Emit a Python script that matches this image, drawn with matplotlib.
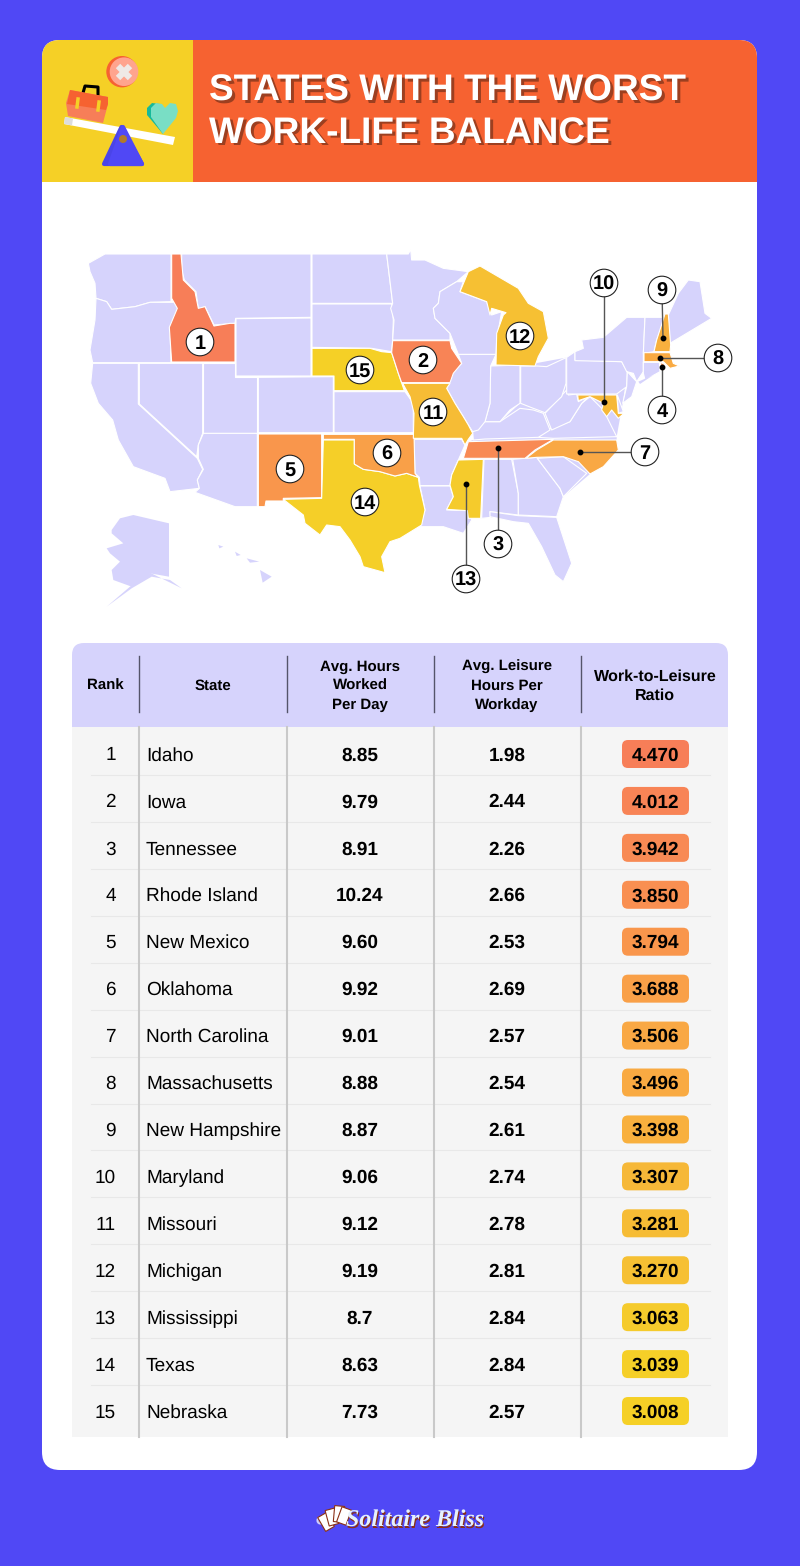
import numpy as np
import matplotlib.pyplot as plt
from matplotlib.patches import Polygon, Circle, Rectangle, FancyBboxPatch
from matplotlib.transforms import Affine2D

plt.rcParams['text.hinting'] = 'no_hinting'
plt.rcParams['text.hinting_factor'] = 1

# table data
ranks = list(range(1, 16))
states = ['Idaho', 'Iowa', 'Tennessee', 'Rhode Island', 'New Mexico', 'Oklahoma',
          'North Carolina', 'Massachusetts', 'New Hampshire', 'Maryland', 'Missouri',
          'Michigan', 'Mississippi', 'Texas', 'Nebraska']
state_codes = ['ID', 'IA', 'TN', 'RI', 'NM', 'OK', 'NC', 'MA', 'NH', 'MD', 'MO', 'MI', 'MS', 'TX', 'NE']
hours_labels = ['8.85', '9.79', '8.91', '10.24', '9.60', '9.92', '9.01', '8.88', '8.87', '9.06',
                '9.12', '9.19', '8.7', '8.63', '7.73']
leisure = [1.98, 2.44, 2.26, 2.66, 2.53, 2.69, 2.57, 2.54, 2.61, 2.74, 2.78, 2.81, 2.84, 2.84, 2.57]
ratio = [4.470, 4.012, 3.942, 3.850, 3.794, 3.688, 3.506, 3.496, 3.398, 3.307, 3.281, 3.270,
         3.063, 3.039, 3.008]
rank_colors = ['#F77E58', '#F88456', '#F88A54', '#F98F51', '#F9964C', '#F9A048', '#F9A844', '#F9AA42',
               '#F8B03E', '#F6B838', '#F6BC35', '#F6C033', '#F5CB2C', '#F5CF28', '#F5D026']
headers = ['Rank', 'State', 'Avg. Hours\nWorked\nPer Day', 'Avg. Leisure\nHours Per\nWorkday',
           'Work-to-Leisure\nRatio']

BG = '#5048F5'
ORANGE = '#F66231'
YELLOW = '#F5D026'
LAV = '#D6D3FC'
SANS = 'Liberation Sans'


# the zoomed crops of the map were traced, these put them back in figure pixels
def w(pts):
    return [(70 + x / 3, 240 + y / 3) for x, y in pts]


def e(pts):
    return [(400 + x / 3, 240 + y / 3) for x, y in pts]


# land behind the eastern states so small tracing gaps stay lavender
land_under = e([(220, 600), (250, 545), (300, 545), (360, 490), (362, 378), (498, 353), (525, 362), (665, 365),
                (682, 395), (668, 490), (650, 590), (650, 600), (570, 702), (490, 770), (470, 830), (355, 825),
                (245, 835), (250, 658), (190, 655), (205, 605)])

map_shapes = {
    'WA': w([(55, 70), (105, 42), (303, 42), (303, 185), (240, 187), (195, 200), (125, 208), (110, 185), (78, 175), (75, 130), (60, 95)]),
    'OR': w([(78, 175), (110, 185), (125, 208), (195, 200), (240, 187), (318, 187), (325, 205), (300, 262), (303, 368), (68, 368), (60, 330), (75, 240)]),
    'CA': w([(68, 370), (205, 370), (205, 492), (382, 655), (398, 688), (382, 720), (388, 745), (300, 755), (285, 715), (190, 680), (145, 600), (128, 540), (85, 490), (62, 430)]),
    'NV': w([(208, 370), (398, 370), (398, 580), (385, 615), (380, 650), (208, 492)]),
    'ID': w([(305, 42), (333, 42), (340, 120), (375, 155), (385, 205), (405, 200), (432, 258), (480, 250), (495, 250), (495, 366), (305, 366), (298, 262), (322, 205), (305, 175)]),
    'MT': w([(335, 42), (723, 42), (723, 232), (497, 235), (495, 250), (432, 255), (405, 200), (385, 207), (378, 155), (343, 120), (335, 90)]),
    'WY': w([(498, 236), (723, 234), (723, 408), (498, 408)]),
    'UT': w([(400, 368), (495, 368), (495, 410), (562, 410), (562, 578), (400, 578)]),
    'CO': w([(565, 412), (790, 410), (790, 578), (565, 578)]),
    'AZ': w([(400, 580), (562, 580), (562, 800), (495, 800), (375, 757), (388, 745), (382, 720), (400, 688), (385, 655), (385, 615)]),
    'NM': w([(565, 582), (755, 582), (755, 773), (640, 775), (640, 783), (588, 783), (585, 800), (565, 800)]),
    'ND': w([(726, 42), (950, 42), (968, 190), (726, 190)]),
    'SD': w([(726, 192), (965, 192), (970, 240), (968, 300), (965, 335), (905, 325), (726, 322)]),
    'NE': w([(726, 325), (900, 325), (935, 335), (965, 338), (985, 400), (1003, 452), (792, 452), (792, 408), (726, 408)]),
    'KS': w([(792, 455), (1005, 455), (1030, 490), (1030, 578), (792, 578)]),
    'TX': w([(760, 600), (853, 600), (853, 672), (880, 688), (930, 695), (975, 708), (1010, 700), (1045, 712), (1048, 735), (1065, 810), (1055, 855), (990, 895), (960, 905), (935, 950), (945, 998), (880, 980), (870, 950), (840, 900), (810, 860), (770, 855), (750, 885), (705, 850), (700, 825), (640, 778), (755, 775)]),
    'OK': w([(760, 583), (1032, 583), (1035, 700), (1045, 712), (1010, 700), (975, 708), (930, 695), (880, 688), (853, 672), (853, 598), (760, 598)]),
    'MN': e([(-40, 42), (25, 42), (32, 28), (35, 60), (75, 60), (130, 85), (205, 95), (170, 125), (120, 155), (115, 190), (100, 205), (105, 235), (150, 280), (150, 300), (-22, 300), (-18, 240), (-28, 205), (-22, 190)]),
    'IA': e([(-22, 302), (150, 302), (155, 325), (185, 370), (160, 400), (150, 428), (5, 428), (-5, 400), (-25, 338)]),
    'MO': e([(8, 430), (150, 430), (140, 445), (165, 490), (190, 530), (205, 555), (218, 580), (205, 598), (195, 615), (185, 595), (40, 595), (42, 520), (30, 470)]),
    'AR': e([(42, 598), (185, 598), (195, 615), (175, 660), (155, 705), (150, 737), (60, 737), (58, 712), (45, 700)]),
    'LA': e([(60, 738), (150, 738), (160, 770), (140, 810), (205, 812), (215, 840), (190, 880), (130, 860), (60, 860), (75, 810)]),
    'MS': e([(175, 660), (250, 658), (242, 835), (205, 835), (202, 812), (140, 808), (160, 770), (150, 735), (155, 705)]),
    'TN': e([(205, 605), (460, 598), (405, 630), (375, 655), (190, 655)]),
    'AL': e([(252, 658), (335, 658), (355, 760), (355, 825), (270, 815), (272, 832), (245, 835)]),
    'GA': e([(338, 658), (410, 652), (480, 745), (490, 770), (470, 830), (355, 825), (355, 760)]),
    'FL': e([(270, 815), (355, 827), (470, 832), (515, 970), (490, 1025), (465, 1005), (425, 920), (385, 850), (340, 845), (270, 830)]),
    'SC': e([(412, 655), (490, 650), (560, 700), (490, 770), (480, 745)]),
    'NC': e([(378, 655), (410, 630), (460, 600), (650, 600), (655, 630), (610, 680), (570, 702), (535, 665), (490, 650), (410, 652)]),
    'VA': e([(415, 592), (440, 570), (510, 545), (545, 490), (570, 470), (610, 510), (625, 540), (650, 590), (460, 595)]),
    'KY': e([(220, 600), (218, 575), (250, 545), (300, 545), (360, 505), (400, 510), (430, 520), (450, 570), (415, 592), (255, 597)]),
    'WV': e([(435, 520), (500, 450), (505, 465), (530, 462), (535, 485), (565, 470), (545, 490), (510, 545), (455, 570)]),
    'OH': e([(362, 378), (410, 378), (440, 380), (498, 353), (498, 430), (485, 470), (435, 518), (400, 505), (362, 490)]),
    'IN': e([(272, 378), (360, 375), (360, 490), (330, 510), (300, 545), (255, 545), (270, 490)]),
    'IL': e([(175, 343), (288, 343), (272, 378), (270, 490), (255, 545), (235, 570), (218, 575), (205, 555), (190, 530), (165, 490), (140, 445), (155, 400), (185, 370)]),
    'WI': e([(120, 155), (170, 125), (190, 125), (180, 155), (260, 185), (275, 225), (305, 215), (290, 300), (288, 343), (175, 343), (150, 280), (105, 235), (100, 205), (115, 190)]),
    'MI': e([(205, 95), (240, 78), (355, 145), (385, 190), (430, 215), (445, 295), (415, 350), (405, 378), (288, 375), (290, 280), (310, 225), (318, 218), (275, 205), (270, 225), (260, 185), (180, 155)]),
    'PA': e([(500, 352), (525, 335), (525, 360), (665, 365), (682, 395), (680, 440), (650, 462), (500, 462)]),
    'NY': e([(525, 362), (525, 335), (550, 325), (545, 300), (610, 292), (680, 232), (735, 232), (730, 340), (730, 395), (710, 425), (700, 400), (680, 395), (665, 365)]),
    'NJ': e([(682, 395), (710, 425), (695, 470), (668, 490), (680, 440)]),
    'DE': e([(652, 465), (670, 515), (655, 520)]),
    'MD': e([(533, 465), (650, 465), (655, 520), (672, 520), (655, 535), (635, 510), (620, 530), (605, 510), (610, 490), (570, 470), (535, 482)]),
    'VT': e([(735, 232), (795, 232), (770, 300), (762, 335), (730, 340)]),
    'NH': e([(795, 222), (805, 222), (812, 315), (810, 335), (762, 335), (770, 300)]),
    'ME': e([(810, 310), (805, 225), (835, 160), (865, 120), (900, 125), (915, 220), (935, 235), (860, 280)]),
    'MA': e([(732, 338), (810, 338), (820, 370), (838, 378), (810, 385), (790, 365), (732, 365)]),
    'CT': e([(730, 367), (778, 367), (780, 395), (735, 420), (730, 400)]),
    'RI': e([(782, 367), (792, 372), (795, 392), (782, 392)]),
}

# no white outline on these, it would eat them
map_small = {
    'LI': e([(715, 425), (760, 405), (720, 432)]),
    'AK': w([(125, 870), (150, 835), (190, 825), (297, 850), (297, 1010), (240, 1000), (215, 1020), (185, 1040), (130, 1020), (125, 990), (150, 965), (120, 940), (110, 925), (160, 910), (125, 880)]),
    'AK2': w([(240, 998), (335, 1045), (300, 1020), (245, 1010), (185, 1045), (110, 1100), (180, 1040)]),
    'HI1': w([(570, 990), (605, 1010), (578, 1028)]),
    'HI2': w([(530, 955), (568, 965), (540, 968)]),
    'HI3': w([(495, 935), (512, 945), (500, 948)]),
    'HI4': w([(445, 915), (460, 920), (448, 925)]),
}

# circle x, circle y, leader end x, leader end y (None when the number sits on the state)
callouts = {
    1: (200, 342, None, None), 2: (423, 360, None, None), 3: (498, 544, 498, 448),
    4: (662, 410, 662, 367), 5: (290, 469, None, None), 6: (387, 453, None, None),
    7: (645, 452, 580, 452), 8: (718, 358, 660, 358), 9: (662, 290, 663, 338),
    10: (604, 283, 604, 402), 11: (433, 412, None, None), 12: (520, 336, None, None),
    13: (466, 579, 466, 484), 14: (365, 502, None, None), 15: (360, 370, None, None),
}

fig = plt.figure(figsize=(8, 15.66), dpi=100, facecolor=BG)
ax = fig.add_axes([0, 0, 1, 1])
ax.set_xlim(0, 800)
ax.set_ylim(1566, 0)
ax.axis('off')


def round_box(x0, y0, x1, y1, r, color, z=1):
    p = FancyBboxPatch((x0 + r, y0 + r), x1 - x0 - 2 * r, y1 - y0 - 2 * r,
                       boxstyle='round,pad=%g,rounding_size=%g' % (r, r),
                       fc=color, ec='none', zorder=z)
    ax.add_patch(p)
    return p


# panel and header
panel = round_box(42, 40, 757, 1470, 18, 'white')
for x0, x1, c in [(42, 193, YELLOW), (193, 757, ORANGE)]:
    r = Rectangle((x0, 40), x1 - x0, 142, fc=c, ec='none', zorder=2)
    ax.add_patch(r)
    r.set_clip_path(panel)

for dx, c, z in [(2.5, '#9C3F20', 3), (0, 'white', 4)]:
    ax.text(209 + dx, 101 + dx, 'STATES WITH THE WORST', color=c, fontsize=26.8, fontweight='bold', family=SANS,
            ha='left', va='baseline', zorder=z)
    ax.text(209 + dx, 143.5 + dx, 'WORK-LIFE BALANCE', color=c, fontsize=26.8, fontweight='bold', family=SANS,
            ha='left', va='baseline', zorder=z)

# header icon
ax.add_patch(Circle((122, 71.7), 15.7, fc=ORANGE, ec='none', zorder=3))
ax.add_patch(Circle((124, 71.7), 14.3, fc='#FFA48E', ec='none', zorder=3))
ax.plot([118, 130], [66, 78], color='#EFE9E6', lw=4.5, zorder=4, solid_capstyle='butt')
ax.plot([130, 118], [66, 78], color='#EFE9E6', lw=4.5, zorder=4, solid_capstyle='butt')
ax.add_patch(Polygon([(65, 117), (64, 124), (173, 145), (175, 137)], fc='white', ec='none', zorder=3))
ax.add_patch(Polygon([(65, 117), (64, 124), (72, 125.5), (73, 118.5)], fc='#DDDDDD', ec='none', zorder=3))
ax.plot([83, 85, 98, 98], [93, 86, 87, 95], color='black', lw=2.2, zorder=3)
ax.add_patch(Polygon([(70, 90), (108, 97), (108, 104), (103, 123), (68, 116), (66, 103)],
                     fc='#F77E58', ec='none', zorder=4))
ax.add_patch(Polygon([(70, 90), (108, 97), (108, 104), (106, 110), (67, 104)],
                     fc=ORANGE, ec='none', zorder=4))
ax.plot([78, 77], [99, 107], color=YELLOW, lw=2.5, zorder=5)
ax.plot([99, 98], [102, 110], color=YELLOW, lw=2.5, zorder=5)
ax.add_patch(Polygon([(121.5, 127), (142, 164), (104, 164)], fc='#4A44E8', ec='#4A44E8', lw=3,
                     joinstyle='round', zorder=4))
ax.add_patch(Polygon([(123, 127), (142, 164), (110, 164)], fc=BG, ec=BG, lw=3, joinstyle='round', zorder=4))
ax.add_patch(Circle((123, 139), 4, fc='#B27A2A', ec='none', zorder=5))
heart_back = [(163, 134), (147, 115), (147, 108), (152, 103), (160, 104), (165, 110)]
heart_front = [(163, 134), (151, 117), (151, 108), (156, 103), (162, 104), (165, 108), (170, 103), (176, 104),
               (178, 111), (176, 118)]
ax.add_patch(Polygon(heart_back, fc='#17B99A', ec='none', zorder=3))
ax.add_patch(Polygon(heart_front, fc='#79DEC5', ec='none', zorder=4))

# map
ax.add_patch(Polygon(land_under, closed=True, fc=LAV, ec='none', zorder=2))
color_by_state = dict(zip(state_codes, rank_colors))
for code, pts in map_shapes.items():
    ax.add_patch(Polygon(pts, closed=True, fc=color_by_state.get(code, LAV), ec='white', lw=0.8,
                         joinstyle='round', zorder=3 if code not in color_by_state else 4))
for code, pts in map_small.items():
    ax.add_patch(Polygon(pts, closed=True, fc=LAV, ec='none', zorder=3))

for rank, (cx, cy, lx, ly) in callouts.items():
    if lx is not None:
        ax.plot([cx, lx], [cy, ly], color='#555555', lw=1, zorder=5)
        ax.plot([lx], [ly], 'o', color='black', ms=3.2, zorder=6)
    ax.add_patch(Circle((cx, cy), 13.8, fc='white', ec='#222222', lw=0.8, zorder=7))
    ax.text(cx, cy + 7, str(rank), fontsize=14.5, fontweight='bold', family=SANS, ha='center',
            va='baseline', color='black', zorder=8)

# table
table_top, head_bottom, table_bottom = 643, 727, 1437
head = round_box(72, table_top, 728, head_bottom + 12, 12, LAV, 2)
ax.add_patch(Rectangle((72, head_bottom), 656, table_bottom - head_bottom, fc='#F5F5F5', ec='none', zorder=2))

col_lines = [139, 287, 434, 581]
header_x = [105, 213, 360, 507, 655]
header_size = [11, 11, 11, 11, 11.6]
for x in col_lines:
    ax.plot([x, x], [656, 712], color='#55546A', lw=1, zorder=4)
    ax.plot([x, x], [head_bottom, table_bottom], color='#C9C9C9', lw=1.5, zorder=4)
for x, label, s in zip(header_x, headers, header_size):
    lines = label.split('\n')
    for j, line in enumerate(lines):
        ly = 684.5 + (j - (len(lines) - 1) / 2) * 19.2 + 5.5
        ax.text(x, ly, line, fontsize=s, fontweight='bold', family=SANS, ha='center', va='baseline', zorder=5)

row_h = 46.93
first_row = 754
for i, rank in enumerate(ranks):
    y = first_row + i * row_h
    base = y + 6.5
    if i < len(ranks) - 1:
        ax.plot([91, 710], [y + 21, y + 21], color='#E8E8E8', lw=0.8, zorder=3)
    ax.text(116, base, str(rank), fontsize=13.6, family=SANS, ha='right', va='baseline', zorder=5)
    ax.text(146, base, states[i], fontsize=13.6, family=SANS, ha='left', va='baseline', zorder=5)
    ax.text(359.5, base, hours_labels[i], fontsize=13.4, fontweight='bold', family=SANS, ha='center', va='baseline', zorder=5)
    ax.text(507, base, '%.2f' % leisure[i], fontsize=13.4, fontweight='bold', family=SANS, ha='center', va='baseline', zorder=5)
    round_box(622, y - 14, 689, y + 14, 6, rank_colors[i], 4)
    ax.text(655.5, base, '%.3f' % ratio[i], fontsize=13.4, fontweight='bold', family=SANS, ha='center', va='baseline', zorder=5)

# logo at the bottom
ax.plot([320], [1520], 'o', color='white', ms=5, alpha=0.6, zorder=3)
for ang, cx, cy in [(-30, 326, 1522), (-15, 332, 1517), (5, 339, 1514), (20, 344, 1516)]:
    card = Rectangle((cx - 5, cy - 8), 10, 16, fc='white', ec='#8A2F16', lw=0.8, zorder=3,
                     transform=Affine2D().rotate_deg_around(cx, cy, ang) + ax.transData)
    ax.add_patch(card)
for dx, c, z in [(1.5, '#8A2F16', 4), (0, '#E6F1FC', 5)]:
    ax.text(415 + dx, 1526 + dx, 'Solitaire Bliss', fontsize=17.5, fontstyle='italic', fontweight='bold',
            family='Liberation Serif', color=c, ha='center', va='baseline', zorder=z)

fig.savefig('out.png', dpi=100, facecolor=BG)
